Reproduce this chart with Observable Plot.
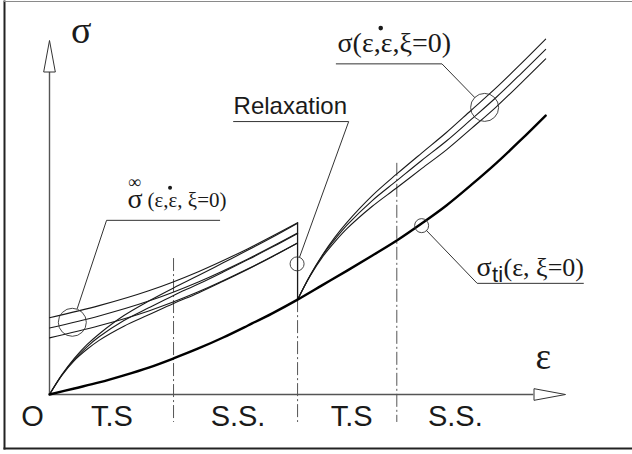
<!DOCTYPE html>
<html>
<head>
<meta charset="utf-8">
<script src="https://cdn.jsdelivr.net/npm/d3@7"></script>
<script src="https://cdn.jsdelivr.net/npm/@observablehq/plot@0.6"></script>
<style>
  body { margin: 0; background: #fff; }
  #chart { width: 632px; height: 454px; overflow: hidden; }
</style>
</head>
<body>
<div id="chart"></div>
<script>
// ---- strain grid for the two loading stages (relaxation at ε = 5) ----
const eps1 = [0, 0.25, 0.5, 0.75, 1, 1.5, 2, 2.5, 3, 3.5, 4, 4.5, 5];
const eps2 = [5, 5.25, 5.5, 5.75, 6, 6.5, 7, 7.5, 8, 8.5, 9, 9.5, 10];

// time-independent stress σti(ε, ξ=0)
const epsTi   = [0, 0.5, 1, 1.5, 2, 2.5, 3, 3.5, 4, 4.5, 5, 5.5, 6, 6.5, 7, 7.5, 8, 8.5, 9, 9.5, 10];
const sigmaTi = [0, 0.17, 0.34, 0.54, 0.76, 1.02, 1.30, 1.61, 1.95, 2.30, 2.68, 3.09, 3.50, 3.92, 4.35, 4.83, 5.34, 5.92, 6.53, 7.19, 7.88];

// dynamic stress σ(ε, ε̇, ξ=0) for three strain rates, first stage
const sigFast1 = [0, 0.56, 1.02, 1.40, 1.71, 2.23, 2.64, 3.01, 3.36, 3.72, 4.08, 4.45, 4.84];
const sigMid1  = [0, 0.55, 0.99, 1.34, 1.63, 2.09, 2.45, 2.80, 3.12, 3.46, 3.81, 4.17, 4.55];
const sigSlow1 = [0, 0.54, 0.96, 1.27, 1.53, 1.93, 2.25, 2.57, 2.87, 3.20, 3.54, 3.90, 4.28];

// dynamic stress after relaxation, second stage
const sigFast2 = [2.68, 3.36, 3.94, 4.44, 4.87, 5.61, 6.23, 6.82, 7.40, 8.03, 8.66, 9.34, 10.04];
const sigMid2  = [2.68, 3.35, 3.92, 4.38, 4.79, 5.47, 6.04, 6.61, 7.16, 7.77, 8.39, 9.06, 9.75];
const sigSlow2 = [2.68, 3.34, 3.88, 4.31, 4.69, 5.31, 5.84, 6.38, 6.91, 7.51, 8.12, 8.79, 9.48];

// saturated (steady-state) stress σ∞(ε, ε̇, ξ=0), first stage
const epsInf     = [0, 1, 2, 3, 4, 5];
const sigInfFast = [2.17, 2.51, 2.93, 3.47, 4.12, 4.85];
const sigInfMid  = [1.88, 2.22, 2.64, 3.18, 3.83, 4.56];
const sigInfSlow = [1.60, 1.94, 2.36, 2.90, 3.55, 4.28];

// stage boundaries (dash-dot) and the relaxation drop
const dividerEps = [2.5, 5, 7];
const dividerTop = [3.84, 2.68, 6.53];
const dividerBottom = -0.79;
const relaxEps = 5, relaxFrom = 4.85, relaxTo = 2.68;

// axes
const axisXEnd = 9.76, axisXTip = 10.4;
const axisYEnd = 9.12, axisYTip = 10.0;

// stage labels under the strain axis
const stageNames = ["O", "T.S", "S.S.", "T.S", "S.S."];
const stageEps   = [-0.34, 1.26, 3.80, 6.09, 8.18];
const stageSigma = -0.876;

// call-out circles
const bigCallouts   = [{eps: 0.46, sigma: 2.04}, {eps: 8.77, sigma: 8.11}];
const smallCallouts = [{eps: 4.99, sigma: 3.69}, {eps: 7.50, sigma: 4.77}];

// leader lines from the circles to the labels
const leaderInf   = [[0.56, 2.43], [1.15, 4.92], [3.43, 4.92]];
const leaderRelax = [[5.04, 3.88], [6.03, 7.71], [3.71, 7.71]];
const leaderDyn   = [[8.57, 8.39], [7.91, 9.34], [5.78, 9.34]];
const leaderTi    = [[7.60, 4.63], [8.62, 3.14], [10.76, 3.14]];

// label texts
const dynArgs = "σ(ε,ε,ξ=0)";     // the second ε carries the rate dot
const infArgs = "(ε,ε, ξ=0)";
const tiArgs  = "(ε, ξ=0)";

// ---- tables built from the arrays ----
const ti = epsTi.map((e, i) => ({e, s: sigmaTi[i]}));
const series = (eps, vals, key) => eps.map((e, i) => ({e, s: vals[i], key}));
const dyn = [
  ...series(eps1, sigFast1, "f1"), ...series(eps1, sigMid1, "m1"), ...series(eps1, sigSlow1, "s1"),
  ...series(eps2, sigFast2, "f2"), ...series(eps2, sigMid2, "m2"), ...series(eps2, sigSlow2, "s2")
];
const inf = [
  ...series(epsInf, sigInfFast, "a"), ...series(epsInf, sigInfMid, "b"), ...series(epsInf, sigInfSlow, "c")
];
const leaders = [leaderInf, leaderRelax, leaderDyn, leaderTi]
  .flatMap((pts, k) => pts.map(([e, s]) => ({e, s, k})));
const stages = stageNames.map((t, i) => ({t, e: stageEps[i], s: stageSigma}));

// open, elongated arrowhead; tip at the anchor point, pointing up
const arrowHead = {
  draw(ctx, size) {
    const L = Math.sqrt(size / Math.PI), w = L * 0.185;
    ctx.moveTo(0, 0);
    ctx.lineTo(w, L);
    ctx.lineTo(-w, L);
    ctx.closePath();
  }
};

const serif = "'Liberation Serif', 'Times New Roman', serif";
const sans = "'Liberation Sans', Arial, sans-serif";
const ink = "#1a1a1a";

// label widths (px) the condensed formula texts are fitted to
const dynSize = 28, dynWidth = 100;
const infSize = 21, infWidth = 70;

// horizontal offset of the rate dot over the second ε of a fitted label,
// measured with the SVG text engine itself
const probe = d3.select(document.body).append("svg")
  .attr("width", 10).attr("height", 10)
  .style("position", "absolute").style("left", "-1000px");
function dotOffset(str, size, fitted) {
  const t = probe.append("text")
    .attr("font-family", serif).attr("font-size", size).text(str).node();
  const full = t.getComputedTextLength();
  const i = str.lastIndexOf("ε");
  const center = t.getSubStringLength(0, i) + t.getSubStringLength(i, 1) / 2;
  t.remove();
  return center * fitted / full;
}
const dynDotDx = dotOffset(dynArgs, dynSize, dynWidth);
const infDotDx = dotOffset(infArgs, infSize, infWidth);
probe.remove();

const chart = Plot.plot({
  width: 632,
  height: 454,
  marginLeft: 4,
  marginTop: 1,
  marginBottom: 6,
  marginRight: -12,
  x: {domain: [0, 10.4], range: [49, 565], axis: null},
  y: {domain: [0, 10], range: [394, 40], axis: null},
  style: {background: "#fff"},
  marks: [
    Plot.frame({anchor: "left", stroke: "#222", strokeWidth: 2}),
    Plot.frame({anchor: "bottom", stroke: "#222", strokeWidth: 2}),
    Plot.frame({anchor: "top", stroke: "#8a8a8a", strokeWidth: 1.2}),
    // axes
    Plot.ruleY([0], {x1: 0, x2: axisXEnd, stroke: "#555", strokeWidth: 1.4}),
    Plot.ruleX([0], {y1: 0, y2: axisYEnd, stroke: "#555", strokeWidth: 1.4}),
    Plot.dot([{e: 0, s: axisYTip, rot: 0}, {e: axisXTip, s: 0, rot: 90}], {
      x: "e", y: "s", rotate: "rot", symbol: arrowHead, r: 31.5,
      fill: "#fff", stroke: "#333", strokeWidth: 1
    }),
    // stage boundaries
    Plot.ruleX(dividerEps, {
      x: d => d, y1: (d, i) => dividerTop[i], y2: dividerBottom,
      stroke: "#555", strokeWidth: 1, strokeDasharray: "13,3,2,3"
    }),
    // saturated stresses
    Plot.line(inf, {x: "e", y: "s", z: "key", curve: "catmull-rom", stroke: ink, strokeWidth: 1.1}),
    // dynamic stresses
    Plot.line(dyn, {x: "e", y: "s", z: "key", curve: "catmull-rom", stroke: ink, strokeWidth: 1.1}),
    // relaxation drop
    Plot.ruleX([relaxEps], {y1: relaxTo, y2: relaxFrom, stroke: ink, strokeWidth: 1.3}),
    // time-independent stress
    Plot.line(ti, {x: "e", y: "s", curve: "catmull-rom", stroke: "#000", strokeWidth: 2.4}),
    // call-outs
    Plot.dot(bigCallouts, {x: "eps", y: "sigma", r: 14, fill: "none", stroke: "#333", strokeWidth: 0.9}),
    Plot.dot(smallCallouts, {x: "eps", y: "sigma", r: 7, fill: "none", stroke: "#333", strokeWidth: 0.9}),
    Plot.line(leaders, {x: "e", y: "s", z: "k", stroke: "#333", strokeWidth: 1}),
    // axis names
    Plot.text(["σ"], {x: 0.64, y: 9.92, text: d => d, fontFamily: serif, fontSize: 38, lineAnchor: "bottom", fill: ink}),
    Plot.text(["ε"], {x: 9.95, y: 0.73, text: d => d, fontFamily: serif, fontSize: 37, lineAnchor: "bottom", fill: ink}),
    // stage labels
    Plot.text(stages, {x: "e", y: "s", text: "t", fontFamily: sans, fontSize: 29, lineAnchor: "bottom", fill: ink}),
    // call-out labels
    Plot.text(["Relaxation"], {x: 3.71, y: 7.92, text: d => d, textAnchor: "start", fontFamily: sans, fontSize: 24, lineAnchor: "bottom", fill: ink}),
    Plot.text([dynArgs], {x: 5.805, y: 9.675, text: d => d, textAnchor: "start", fontFamily: serif, fontSize: dynSize, lineAnchor: "bottom", fill: ink, ariaLabel: "rate label"}),
    Plot.dot([0], {x: 5.805, y: 10.35, dx: dynDotDx, r: 2.3, fill: ink}),
    Plot.text(["σ"], {x: 1.57, y: 5.26, text: d => d, textAnchor: "start", fontFamily: serif, fontSize: 28, lineAnchor: "bottom", fill: ink}),
    Plot.text(["∞"], {x: 1.71, y: 5.82, text: d => d, fontFamily: serif, fontSize: 18, lineAnchor: "bottom", fill: ink}),
    Plot.text([infArgs], {x: 1.975, y: 5.31, text: d => d, textAnchor: "start", fontFamily: serif, fontSize: infSize, lineAnchor: "bottom", fill: ink, ariaLabel: "saturated label"}),
    Plot.dot([0], {x: 1.975, y: 5.84, dx: infDotDx, r: 2, fill: ink}),
    Plot.text(["σ"], {x: 8.606, y: 3.36, text: d => d, textAnchor: "start", fontFamily: serif, fontSize: 28, lineAnchor: "bottom", fill: ink}),
    Plot.text(["ti"], {x: 8.92, y: 3.17, text: d => d, textAnchor: "start", fontFamily: sans, fontSize: 22, lineAnchor: "bottom", fill: ink}),
    Plot.text([tiArgs], {x: 9.15, y: 3.36, text: d => d, textAnchor: "start", fontFamily: serif, fontSize: 26, lineAnchor: "bottom", fill: ink})
  ]
});

// condense the two formula labels to their set widths
d3.select(chart).selectAll('g[aria-label="rate label"] text')
  .attr("textLength", dynWidth).attr("lengthAdjust", "spacingAndGlyphs");
d3.select(chart).selectAll('g[aria-label="saturated label"] text')
  .attr("textLength", infWidth).attr("lengthAdjust", "spacingAndGlyphs");

document.getElementById("chart").append(chart);
</script>
</body>
</html>
